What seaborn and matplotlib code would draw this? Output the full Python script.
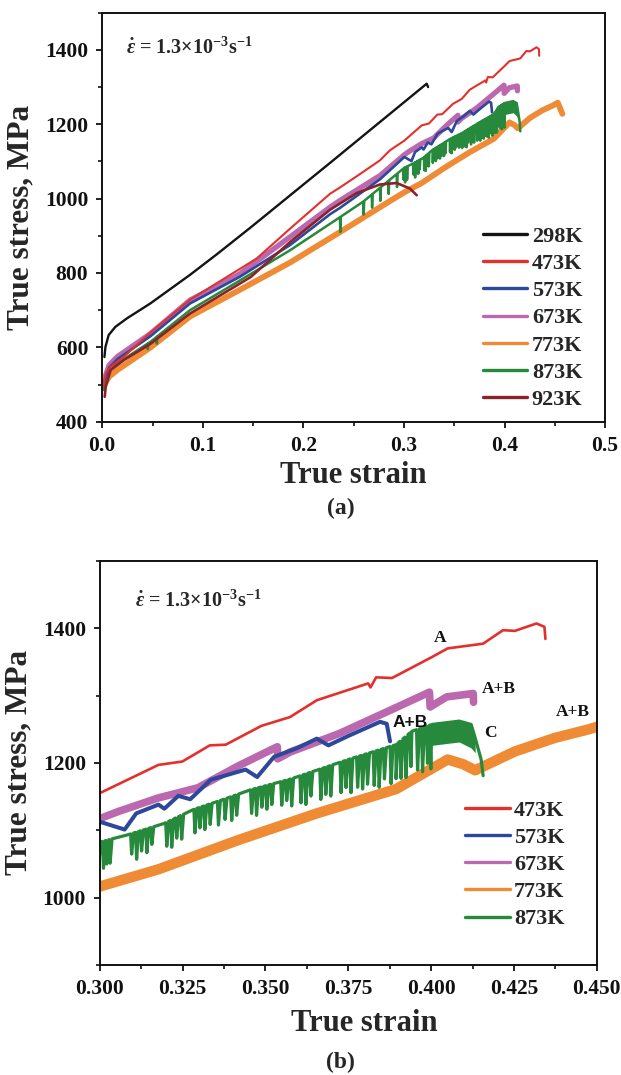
import numpy as np
import pandas as pd
import matplotlib
matplotlib.use("Agg")
import matplotlib.pyplot as plt
import seaborn as sns
from matplotlib.lines import Line2D
from matplotlib.ticker import MultipleLocator, FormatStrFormatter

# ---- data (true strain, true stress MPa) ----
strain_298 = [0.0022, 0.0032, 0.0064, 0.0130, 0.0246, 0.0478, 0.0873, 0.1138,
              0.1469, 0.2133, 0.2265, 0.3226, 0.3240]
stress_298 = [574, 601, 633, 655, 678, 718, 795, 850, 921, 1067, 1096, 1309, 1300]

strain_473 = [0.0008, 0.0035, 0.0084, 0.0217, 0.0480, 0.0873, 0.1536, 0.1867,
              0.2265, 0.2364, 0.2519, 0.2762, 0.2861, 0.3004, 0.3177, 0.3249,
              0.3332, 0.3380, 0.3488, 0.3574, 0.3655, 0.3810, 0.3817, 0.3834,
              0.3882, 0.4002, 0.4050, 0.4157, 0.4217, 0.4253, 0.4318, 0.4342, 0.4345]
stress_473 = [494, 530, 548, 575, 640, 728, 839, 919,
              1013, 1030, 1058, 1103, 1130, 1156, 1197, 1202,
              1226, 1227, 1255, 1268, 1293, 1318, 1312, 1327,
              1326, 1357, 1370, 1377, 1397, 1396, 1407, 1402, 1384]

strain_573 = [0.0018, 0.0068, 0.0150, 0.0480, 0.0873, 0.1370, 0.1867, 0.2265,
              0.2364, 0.2762, 0.3004, 0.3075, 0.3110, 0.3177, 0.3195, 0.3237,
              0.3273, 0.3335, 0.3440, 0.3475, 0.3526, 0.3596, 0.3655, 0.3690,
              0.3750, 0.3846, 0.3866, 0.3876]
stress_573 = [505, 545, 568, 630, 718, 790, 875, 958,
              975, 1052, 1112, 1101, 1125, 1138, 1132, 1151,
              1146, 1175, 1190, 1179, 1209, 1222, 1236, 1226,
              1240, 1261, 1258, 1232]

strain_673 = [0.0018, 0.0068, 0.0150, 0.0480, 0.0873, 0.1370, 0.1867, 0.2265,
              0.2364, 0.2762, 0.3004, 0.3057, 0.3177, 0.3296, 0.3416, 0.3536,
              0.3537, 0.3574, 0.3725, 0.3876, 0.3995, 0.3997, 0.4047, 0.4127, 0.4128]
stress_673 = [512, 552, 575, 637, 727, 798, 897, 977,
              995, 1062, 1118, 1128, 1148, 1163, 1195, 1224,
              1206, 1216, 1244, 1278, 1305, 1283, 1298, 1303, 1290]

strain_773 = [0.0018, 0.0068, 0.0150, 0.0482, 0.0873, 0.1370, 0.1867, 0.2364,
              0.2894, 0.3004, 0.3177, 0.3416, 0.3655, 0.3894, 0.4050, 0.4097,
              0.4133, 0.4253, 0.4373, 0.4477, 0.4530, 0.4575]
stress_773 = [498, 521, 539, 600, 683, 755, 828, 910,
              999, 1017, 1042, 1085, 1125, 1161, 1205, 1198,
              1189, 1217, 1237, 1250, 1258, 1228]

# 873K: upper envelope plus the serration drops
strain_873 = [0.0018, 0.0050, 0.0150, 0.0480, 0.0873, 0.1370, 0.1867, 0.2364,
              0.2596, 0.3004, 0.3083, 0.3194, 0.3284, 0.3375, 0.3455, 0.3576,
              0.3750, 0.3894, 0.3942, 0.4002, 0.4085, 0.4121, 0.4133, 0.4151, 0.4157]
stress_873 = [485, 530, 557, 615, 700, 780, 861, 950,
              992, 1083, 1093, 1110, 1131, 1146, 1160, 1176,
              1205, 1227, 1247, 1257, 1262, 1257, 1237, 1205, 1181]
drop_strain_873 = [0.045, 0.054,
                   0.2364, 0.2596, 0.2680, 0.2762, 0.2845, 0.2928, 0.2994,
                   0.3008, 0.3018, 0.3028,
                   0.3093, 0.3108, 0.3123, 0.3139, 0.3154,
                   0.3199, 0.3214, 0.3229, 0.3244,
                   0.3284, 0.3299, 0.3314, 0.3330,
                   0.3355, 0.3375, 0.3395, 0.3410,
                   0.3455, 0.3470, 0.3486, 0.3501, 0.3516,
                   0.3546, 0.3561, 0.3576,
                   0.3604, 0.3619, 0.3634,
                   0.3664, 0.3679, 0.3694,
                   0.3725, 0.3740, 0.3755,
                   0.3775, 0.3790, 0.3805,
                   0.3825, 0.3840, 0.3856,
                   0.3876, 0.3891, 0.3906, 0.3921, 0.3936,
                   0.3956, 0.3971, 0.3986, 0.3996]
drop_depth_873 = [14, 18,
                  40, 35, 35, 35, 35, 35, 30,
                  40, 35, 35,
                  30, 40, 30, 35, 25,
                  35, 40, 30, 35,
                  35, 30, 35, 30,
                  35, 30, 35, 30,
                  35, 40, 30, 35, 30,
                  35, 30, 40,
                  40, 45, 35,
                  45, 40, 45,
                  45, 40, 50,
                  45, 50, 45,
                  50, 55, 45,
                  55, 50, 55, 60, 50,
                  60, 65, 55, 65]
# densely serrated stretch near the end of the 873K curve
band_strain_873 = [0.4002, 0.4050, 0.4085, 0.4121, 0.4133]
band_top_873 = [1257, 1260, 1262, 1257, 1237]
band_low_873 = [1226, 1229, 1231, 1222, 1215]

strain_923 = [0.0025, 0.0035, 0.0084, 0.0217, 0.0482, 0.0873, 0.1476, 0.1867,
              0.2265, 0.2530, 0.2762, 0.2928, 0.3060, 0.3127]
stress_923 = [467, 494, 539, 566, 610, 691, 789, 883,
              970, 1015, 1038, 1042, 1027, 1009]

# mechanism labels in panel (b): text, strain, stress
note_text = ["A", "A+B", "A+B", "C", "A+B"]
note_strain = [0.4027, 0.4205, 0.3938, 0.4178, 0.4429]
note_stress = [1386, 1310, 1260, 1244, 1275]
note_sans = [False, False, True, False, False]

COLORS = {"298K": "#141414", "473K": "#e3302c", "573K": "#2d479b",
          "673K": "#bb68ae", "773K": "#ef8b35", "873K": "#27893b", "923K": "#8b2229"}


def serrated(env_x, env_y, drop_x, drop_d, width=0.0009):
    """Envelope curve with sharp downward serrations inserted."""
    xs, ys = list(env_x), list(env_y)
    for sx, d in zip(drop_x, drop_d):
        top = float(np.interp(sx, env_x, env_y))
        xs += [sx, sx + width * 0.35, sx + width]
        ys += [top, top - d, float(np.interp(sx + width, env_x, env_y))]
    order = np.argsort(xs, kind="stable")
    return np.asarray(xs)[order], np.asarray(ys)[order]


sns.set_theme(style="ticks")
plt.rcParams["font.family"] = ["Liberation Serif", "DejaVu Serif"]
plt.rcParams["font.weight"] = "bold"
plt.rcParams["mathtext.fontset"] = "custom"
plt.rcParams["mathtext.rm"] = "Liberation Serif:bold"
plt.rcParams["mathtext.it"] = "Liberation Serif:italic:bold"
plt.rcParams["mathtext.bf"] = "Liberation Serif:bold"

curves = {
    "298K": (strain_298, stress_298),
    "473K": (strain_473, stress_473),
    "573K": (strain_573, stress_573),
    "673K": (strain_673, stress_673),
    "773K": (strain_773, stress_773),
    "873K": serrated(strain_873, stress_873, drop_strain_873, drop_depth_873),
    "923K": (strain_923, stress_923),
}

fig = plt.figure(figsize=(6.21, 10.75), dpi=100)
ax_a = fig.add_axes([0.1646, 0.6077, 0.8098, 0.3805])
ax_b = fig.add_axes([0.1607, 0.1024, 0.8003, 0.3759])

# panel (a): all temperatures
lw_a = {"298K": 1.7, "473K": 1.5, "573K": 1.9, "673K": 3.8,
        "773K": 4.2, "873K": 1.8, "923K": 1.9}
draw_a = ["773K", "873K", "673K", "573K", "473K", "923K", "298K"]
for key in draw_a:
    x, y = curves[key]
    sns.lineplot(x=x, y=y, ax=ax_a, color=COLORS[key], lw=lw_a[key],
                 sort=False, estimator=None)
ax_a.fill_between(band_strain_873, band_low_873, band_top_873,
                  color=COLORS["873K"], lw=0)

# panel (b): zoom on the serrated part
lw_b = {"473K": 1.9, "573K": 2.9, "673K": 5.5, "773K": 7.5, "873K": 2.3}
draw_b = ["773K", "873K", "673K", "573K", "473K"]
for key in draw_b:
    x, y = curves[key]
    sns.lineplot(x=x, y=y, ax=ax_b, color=COLORS[key], lw=lw_b[key],
                 sort=False, estimator=None)
ax_b.fill_between(band_strain_873, band_low_873, band_top_873,
                  color=COLORS["873K"], lw=0)

for t, sx, sy, sans in zip(note_text, note_strain, note_stress, note_sans):
    fam = ["Liberation Sans", "DejaVu Sans"] if sans else ["Liberation Serif"]
    ax_b.text(sx, sy, t, ha="center", va="center", fontsize=12.5,
              fontweight="bold", family=fam, color="#111111")

rate = r"$\dot{\varepsilon}$ = 1.3×10$^{\mathbf{-3}}$s$^{\mathbf{-1}}$"
ax_a.text(0.048, 0.912, rate, transform=ax_a.transAxes, fontsize=14.5,
          fontweight="bold", va="center", ha="left")
ax_b.text(0.071, 0.900, rate, transform=ax_b.transAxes, fontsize=14.5,
          fontweight="bold", va="center", ha="left")

# axes styling
ax_a.set_xlim(0, 0.5)
ax_a.set_ylim(400, 1500)
ax_a.xaxis.set_major_locator(MultipleLocator(0.1))
ax_a.xaxis.set_minor_locator(MultipleLocator(0.05))
ax_a.xaxis.set_major_formatter(FormatStrFormatter("%.1f"))
ax_a.yaxis.set_major_locator(MultipleLocator(200))
ax_a.yaxis.set_minor_locator(MultipleLocator(100))

ax_b.set_xlim(0.3, 0.45)
ax_b.set_ylim(900, 1500)
ax_b.xaxis.set_major_locator(MultipleLocator(0.025))
ax_b.xaxis.set_minor_locator(MultipleLocator(0.0125))
ax_b.xaxis.set_major_formatter(FormatStrFormatter("%.3f"))
ax_b.yaxis.set_major_locator(MultipleLocator(200))
ax_b.yaxis.set_minor_locator(MultipleLocator(100))

for ax in (ax_a, ax_b):
    for sp in ax.spines.values():
        sp.set_linewidth(1.4)
        sp.set_color("#111111")
    ax.tick_params(which="major", direction="out", length=4.5, width=1.3,
                   labelsize=15.5, pad=5.5, colors="#111111")
    ax.tick_params(which="minor", direction="out", length=2.8, width=1.2,
                   colors="#111111")
    for lab in ax.get_xticklabels() + ax.get_yticklabels():
        lab.set_fontweight("bold")
    ax.set_xlabel("True strain", fontsize=22, fontweight="bold")
    ax.set_ylabel("True stress, MPa", fontsize=22.5, fontweight="bold")

ax_a.xaxis.set_label_coords(0.5, -0.095)
ax_a.xaxis.label.set_va("top")
ax_a.yaxis.set_label_coords(-0.132, 0.5)
ax_b.xaxis.set_label_coords(0.532, -0.11)
ax_b.xaxis.label.set_va("top")
ax_b.yaxis.set_label_coords(-0.133, 0.5)

# legends
def legend_for(ax, keys, anchor):
    handles = [Line2D([], [], color=COLORS[k], lw=2.4) for k in keys]
    ax.legend(handles, keys, loc="upper left", bbox_to_anchor=anchor,
              frameon=False, borderpad=0, borderaxespad=0, handlelength=2.0,
              handletextpad=0.2, labelspacing=0.3,
              prop={"family": "Liberation Serif", "weight": "bold", "size": 16})

legend_for(ax_a, ["298K", "473K", "573K", "673K", "773K", "873K", "923K"], (0.757, 0.478))
legend_for(ax_b, ["473K", "573K", "673K", "773K", "873K"], (0.735, 0.408))

fig.text(340.6 / 621, 1 - 508 / 1075, "(a)", ha="center", va="center",
         fontsize=17, fontweight="bold")
fig.text(340.6 / 621, 1 - 1062 / 1075, "(b)", ha="center", va="center",
         fontsize=17, fontweight="bold")

fig.savefig("out.png", dpi=100, facecolor="white")
